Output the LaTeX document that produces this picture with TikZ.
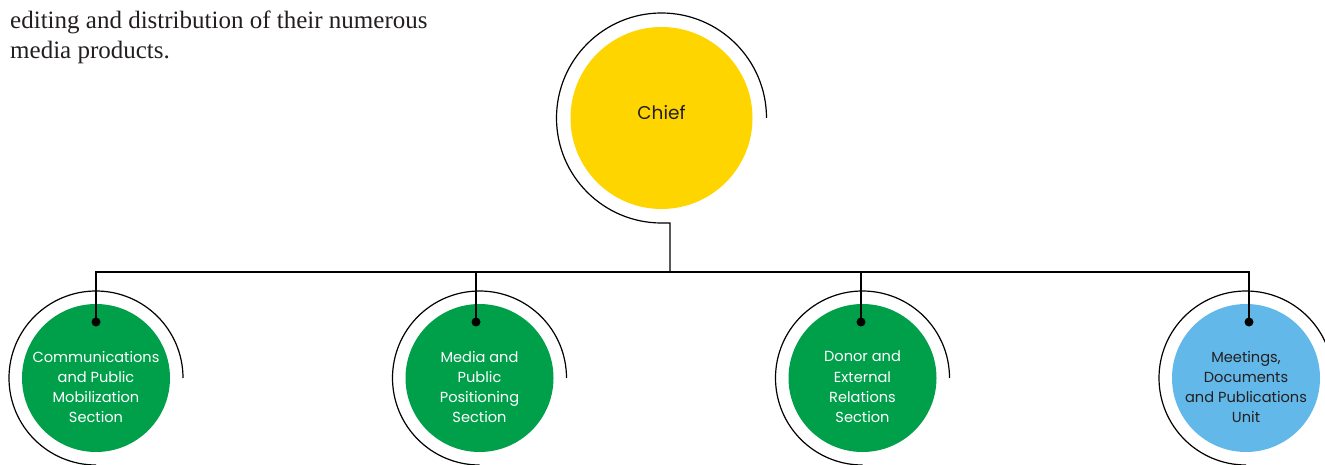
\documentclass[tikz,border=0pt]{standalone}
\usepackage{fontspec}
\setmainfont{Liberation Serif}
\newfontfamily\orgfont{Poppins}
\definecolor{chiefyellow}{RGB}{255,213,0}
\definecolor{unitgreen}{RGB}{0,160,75}
\definecolor{unitblue}{RGB}{98,184,232}
\definecolor{inkgray}{RGB}{35,31,32}
\begin{document}
\begin{tikzpicture}[x=1pt,y=1pt,
  chiefnode/.style={circle,fill=chiefyellow,minimum size=182pt,inner sep=0pt},
  chieftext/.style={inner sep=0pt,yshift=5pt,text=inkgray,font=\orgfont\fontsize{18.5}{22}\selectfont},
  unitnode/.style={circle,minimum size=148pt,inner sep=0pt},
  unittext/.style={align=center,inner sep=0pt,yshift=-9pt,font=\orgfont\fontsize{14.6}{20.3}\selectfont},
  ring/.style={line width=1.2pt},
  link/.style={line width=1.2pt},
  dot/.style={circle,fill=black,minimum size=9pt,inner sep=0pt},
  para/.style={anchor=base west,inner sep=0pt,text=inkgray,font=\fontsize{25}{31}\selectfont}]
\useasboundingbox (0,0) rectangle (1325,464);

\node[para] (para1) at (10,435) {editing and distribution of their numerous};
\node[para] (para2) at (10,405) {media products.};

\node[chiefnode,label={[chieftext]center:Chief}] (chief) at (661.5,346) {};
\coordinate (bus) at (670,192);
\draw[ring] (chief.center) ++(0:105) arc[start angle=0,end angle=270,radius=105] -| (bus);

\node[unitnode,fill=unitgreen,label={[unittext,text=white]center:{Communications\\and Public\\Mobilization\\Section}}] (cpm) at (96,86) {};
\node[unitnode,fill=unitgreen,label={[unittext,text=white]center:{Media and\\Public\\Positioning\\Section}}] (mps) at (479.5,86) {};
\node[unitnode,fill=unitgreen,label={[unittext,text=white]center:{Donor and\\External\\Relations\\Section}}] (der) at (862.5,86) {};
\node[unitnode,fill=unitblue,label={[unittext,text=inkgray]center:{Meetings,\\Documents\\and Publications\\Unit}}] (mdp) at (1246,86) {};

\foreach \u in {cpm,mps,der,mdp}
  \draw[ring] (\u.center) ++(0:87) arc[start angle=0,end angle=270,radius=87];

\node[dot] (dcpm) at (96,142) {};
\node[dot] (dmps) at (476,142) {};
\node[dot] (dder) at (861,142) {};
\node[dot] (dmdp) at (1249,142) {};

\draw[link] (dcpm.center) |- (bus) -| (dmdp.center);
\draw[link] (dmps.center) -- (dmps |- bus);
\draw[link] (dder.center) -- (dder |- bus);
\end{tikzpicture}
\end{document}
